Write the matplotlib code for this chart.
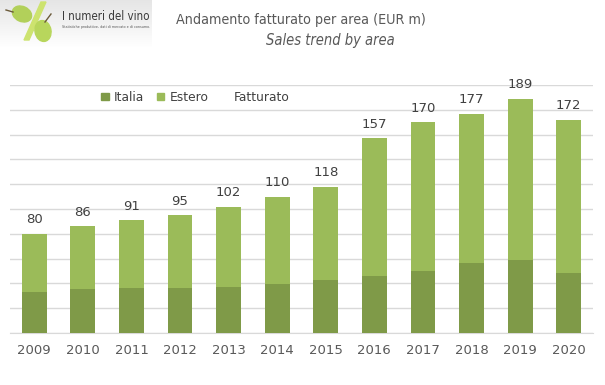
import matplotlib
matplotlib.use("Agg")
import matplotlib.pyplot as plt
import numpy as np
from matplotlib.patches import Ellipse, Polygon, Patch
from matplotlib.lines import Line2D

# dati (EUR m)
anni = ["2009", "2010", "2011", "2012", "2013", "2014",
        "2015", "2016", "2017", "2018", "2019", "2020"]
fatturato = [80, 86, 91, 95, 102, 110, 118, 157, 170, 177, 189, 172]
italia = [33, 35.5, 36.5, 36.5, 37, 39.5, 43, 46, 50, 56.5, 59, 48.5]
estero = [t - i for t, i in zip(fatturato, italia)]

col_italia = "#7F9A48"
col_estero = "#9BBB59"
grigio = "#595959"
narrow = ["DejaVu Sans"]

fig = plt.figure(figsize=(6.05, 3.85), dpi=100)
ax = fig.add_axes([10 / 605, 52 / 385, 583 / 605, 248 / 385])

x = np.arange(len(anni))
w = 0.51
ax.bar(x, italia, w, color=col_italia, label="Italia", zorder=3)
ax.bar(x, estero, w, bottom=italia, color=col_estero, label="Estero", zorder=3)

for xi, tot in zip(x, fatturato):
    ax.text(xi, tot + 6, str(tot), ha="center", va="bottom",
            fontsize=9.5, color="#404040")

ax.set_xlim(-0.5, len(anni) - 0.5)
ax.set_ylim(0, 200)
ax.set_yticks(np.arange(0, 201, 20))
ax.set_yticklabels([])
ax.tick_params(axis="y", length=0)
ax.tick_params(axis="x", length=0, pad=8, labelsize=9.5, labelcolor=grigio)
ax.set_xticks(x)
ax.set_xticklabels(anni)
ax.grid(axis="y", color="#D9D9D9", linewidth=1, zorder=0)
for s in ["left", "right", "top"]:
    ax.spines[s].set_visible(False)
ax.spines["bottom"].set_color("#D9D9D9")

handles = [Patch(color=col_italia, label="Italia"),
           Patch(color=col_estero, label="Estero"),
           Line2D([], [], color="none", label="Fatturato")]
ax.legend(handles=handles, loc="center", bbox_to_anchor=(0.318, 0.95),
          ncol=3, frameon=False, fontsize=8.8, handlelength=0.6,
          handleheight=0.6, handletextpad=0.45, columnspacing=1.0,
          labelcolor="#404040")

# titolo
fig.text(301 / 605, 1 - 20 / 385, "Andamento fatturato per area (EUR m)",
         ha="center", va="center", fontsize=10.3, color=grigio, family=narrow,
         fontstretch="condensed")
fig.text(330 / 605, 1 - 40 / 385, "Sales trend by area", ha="center",
         va="center", fontsize=10.5, color=grigio, style="italic", family=narrow,
         fontstretch="condensed")

# logo (semplificato)
lx = fig.add_axes([0, 1 - 48 / 385, 152 / 605, 48 / 385])
lx.axis("off")
grad = np.linspace(0.90, 1.0, 48).reshape(-1, 1)
lx.imshow(np.dstack([grad, grad, grad]), extent=[0, 152, 48, 0], aspect="auto")
lx.add_patch(Polygon([[24, 40], [29, 40], [46, 2], [41, 2]], color="#CDE36F"))
lx.add_patch(Ellipse((22, 14), 20, 15, angle=25, color="#B2D05A"))
lx.add_patch(Ellipse((43, 31), 16, 21, angle=-10, color="#B8D65C"))
lx.plot([6, 13], [10, 12], color="#6B5A3A", lw=1)
lx.plot([45, 51], [22, 14], color="#6B5A3A", lw=1)
lx.text(62, 17, "I numeri del vino", fontsize=8.3, color="#3A3A3A",
        va="center", family=narrow, fontstretch="condensed")
lx.text(62, 27, "Statistiche produttive, dati di mercato e di consumo.",
        fontsize=2.4, color="#555555", va="center")
lx.set_xlim(0, 152)
lx.set_ylim(48, 0)

fig.savefig("out.png", dpi=100)
